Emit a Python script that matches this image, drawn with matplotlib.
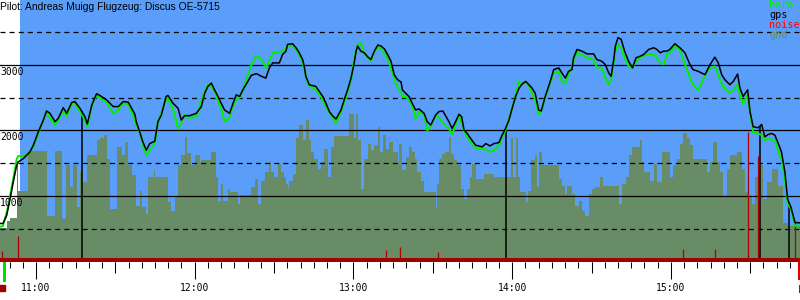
import numpy as np
import matplotlib
matplotlib.use('Agg')
import matplotlib.pyplot as plt

################################################################################
# Data (time in minutes after midnight, altitude in m)
################################################################################
flight_t = [646.4, 647.5, 648.9, 650.2, 651.4, 652.7, 653.3, 655.2, 657.7, 659.0,
            660.9, 662.8, 664.0, 665.3, 667.2, 668.4, 670.3, 671.6, 673.5, 674.7,
            676.6, 678.5, 679.4, 681.1, 682.9, 684.2, 686.7, 689.2, 691.1, 693.0,
            694.9, 697.4, 697.9, 699.2, 700.4, 701.7, 703.0, 704.9, 706.1, 707.4,
            709.2, 709.9, 711.8, 713.7, 714.9, 716.2, 718.1, 720.6, 722.5, 723.8,
            725.0, 726.3, 727.5, 728.8, 730.0, 731.3, 733.2, 734.5, 735.7, 737.0,
            738.2, 740.1, 741.4, 743.3, 745.2, 746.9, 748.2, 749.5, 752.0, 753.2,
            754.5, 755.1, 757.0, 758.3, 759.5, 760.8, 761.4, 762.0, 763.3, 765.8,
            767.1, 768.4, 769.6, 770.9, 772.1, 773.4, 775.3, 776.5, 777.8, 779.1,
            780.3, 781.0, 781.6, 782.8, 784.1, 785.4, 786.6, 787.9, 789.2, 790.4,
            791.7, 792.9, 794.2, 795.4, 796.7, 798.0, 798.5, 799.7, 801.0, 802.2,
            803.5, 804.8, 806.7, 807.9, 809.2, 811.1, 812.3, 813.8, 816.1, 817.3,
            818.6, 819.9, 820.9, 821.8, 823.0, 824.3, 826.2, 828.7, 830.0, 831.6,
            833.1, 835.0, 836.2, 837.5, 838.8, 840.0, 841.3, 842.6, 843.8, 845.1,
            846.3, 847.5, 848.7, 850.0, 851.0, 852.5, 854.4, 855.7, 857.6, 858.8,
            860.1, 861.3, 862.6, 863.2, 864.5, 866.4, 868.3, 870.8, 872.0, 873.9,
            875.2, 876.5, 877.4, 878.4, 879.0, 880.0, 881.2, 882.5, 884.0, 885.5,
            886.8, 888.4, 889.7, 891.6, 893.5, 894.7, 896.0, 897.2, 898.5, 899.6,
            901.5, 903.4, 905.3, 907.2, 908.4, 910.3, 911.6, 912.9, 914.8, 916.6,
            917.9, 919.2, 920.4, 922.3, 923.6, 925.2, 926.1, 927.3, 929.0, 929.9,
            931.1, 933.0, 934.3, 935.5, 936.8, 938.1, 939.3, 940.6, 941.8, 943.1,
            944.1, 945.4, 946.9, 948.8]

gps_alt = [580, 580, 700, 954, 1210, 1467, 1520, 1570, 1672, 1775,
           1980, 2160, 2298, 2262, 2134, 2185, 2349, 2262, 2426, 2442,
           2339, 2211, 2100, 2390, 2560, 2534, 2467, 2365, 2365, 2442,
           2431, 2247, 2134, 1980, 1826, 1698, 1800, 1836, 2134, 2237,
           2519, 2534, 2416, 2339, 2160, 2226, 2226, 2262, 2365, 2570,
           2673, 2724, 2621, 2519, 2416, 2313, 2262, 2416, 2544, 2519,
           2621, 2750, 2842, 2868, 2827, 2800, 2955, 3032, 3032, 3160,
           3211, 3314, 3324, 3263, 3186, 3083, 2980, 2827, 2698, 2673,
           2596, 2519, 2416, 2288, 2226, 2175, 2313, 2467, 2621, 2800,
           3032, 3211, 3288, 3211, 3186, 3124, 3083, 3211, 3304, 3290,
           3245, 3160, 3057, 2852, 2775, 2740, 2621, 2570, 2519, 2416,
           2313, 2329, 2262, 2134, 2083, 2237, 2288, 2298, 2134, 2031,
           2134, 2247, 2210, 2006, 1955, 1878, 1775, 1750, 1800, 1765,
           1800, 1816, 1929, 2031, 2160, 2339, 2519, 2647, 2709, 2750,
           2700, 2647, 2570, 2313, 2298, 2519, 2750, 2929, 2955, 2878,
           2800, 2903, 2929, 3109, 3237, 3211, 3170, 3170, 3083, 3057,
           3006, 2878, 2827, 3083, 3288, 3417, 3391, 3211, 3057, 2955,
           3109, 3134, 3160, 3237, 3263, 3237, 3186, 3211, 3211, 3237,
           3324, 3263, 3186, 3006, 2929, 2903, 2878, 2852, 3006, 3119,
           3032, 2852, 2775, 2698, 2750, 2862, 2647, 2519, 2621, 2288,
           2057, 2042, 2093, 1903, 1939, 1955, 1929, 1800, 1672, 1365,
           954, 826, 595, 590]

baro_alt = [530, 540, 740, 1000, 1260, 1560, 1610, 1610, 1672, 1750,
            1960, 2160, 2290, 2190, 2080, 2150, 2320, 2220, 2400, 2420,
            2290, 2160, 2060, 2370, 2540, 2500, 2430, 2260, 2310, 2420,
            2400, 2160, 2080, 1980, 1780, 1620, 1700, 1800, 2134, 2260,
            2480, 2490, 2330, 2030, 2110, 2240, 2190, 2210, 2450, 2600,
            2700, 2680, 2600, 2460, 2330, 2134, 2200, 2380, 2470, 2500,
            2621, 2852, 3000, 3140, 3090, 2955, 3060, 3180, 3200, 3211,
            3260, 3290, 3300, 3240, 3160, 3030, 2955, 2830, 2680, 2621,
            2550, 2467, 2360, 2280, 2185, 2108, 2288, 2420, 2580, 2775,
            3109, 3210, 3314, 3340, 3180, 3110, 3057, 3200, 3280, 3237,
            3190, 3100, 2950, 2800, 2650, 2596, 2519, 2519, 2450, 2390,
            2185, 2288, 2237, 2000, 2057, 2240, 2200, 2110, 2031, 1939,
            2083, 2247, 2110, 2000, 1900, 1826, 1724, 1715, 1714, 1672,
            1700, 1770, 1900, 2000, 2200, 2339, 2550, 2750, 2700, 2750,
            2680, 2570, 2467, 2247, 2300, 2519, 2724, 2878, 2903, 2750,
            2720, 2850, 2980, 3057, 3186, 3160, 3109, 3083, 2965, 2955,
            2810, 2700, 2780, 3050, 3211, 3324, 3263, 3109, 2980, 2955,
            3057, 3109, 3140, 3170, 3160, 3109, 3030, 3010, 3160, 3186,
            3288, 3237, 3010, 2800, 2700, 2620, 2724, 2850, 2950, 2980,
            2850, 2700, 2647, 2570, 2620, 2700, 2540, 2400, 2545, 2288,
            1970, 1955, 1929, 1852, 1870, 1860, 1852, 1672, 1570, 1260,
            880, 800, 544, 544]

# terrain under the track: segment start times and heights
gnd_t = [646.4, 649.0, 650.2, 652.8, 653.2, 657.0, 664.2, 667.2, 669.8, 671.3,
         672.9, 674.0, 675.5, 676.6, 677.8, 679.3, 683.1, 684.2, 685.7, 686.8,
         688.0, 690.6, 692.5, 693.6, 694.8, 696.3, 697.8, 699.3, 700.1, 701.6,
         702.3, 704.6, 705.0, 709.9, 711.0, 712.5, 713.7, 714.8, 716.3, 717.1,
         718.6, 720.1, 722.0, 722.4, 726.1, 728.0, 728.8, 729.9, 730.7, 732.6,
         733.3, 736.3, 737.1, 741.3, 742.8, 743.9, 745.0, 746.6, 748.1, 748.8,
         750.0, 751.5, 752.6, 753.7, 754.5, 755.2, 755.6, 757.1, 758.3, 759.4,
         760.9, 762.0, 763.2, 763.9, 765.1, 766.6, 767.7, 768.9, 770.4, 771.5,
         772.6, 778.3, 780.2, 780.9, 781.7, 782.8, 784.0, 785.5, 786.6, 787.8,
         789.3, 790.0, 791.2, 792.3, 793.4, 794.9, 796.8, 797.2, 798.3, 799.8,
         801.0, 802.1, 803.2, 804.0, 805.5, 806.6, 811.2, 811.6, 812.3, 813.5,
         814.6, 816.1, 816.9, 818.0, 819.1, 820.6, 821.8, 822.9, 824.0, 824.8,
         826.3, 829.3, 833.1, 839.5, 840.3, 841.4, 842.2, 842.9, 845.2, 846.0,
         847.1, 848.6, 849.4, 850.1, 851.3, 857.7, 858.8, 859.9, 860.7, 862.6,
         863.7, 865.2, 866.4, 867.5, 869.0, 870.1, 871.3, 873.2, 874.3, 880.4,
         881.5, 883.0, 884.1, 885.3, 888.3, 889.0, 889.8, 892.1, 893.6, 894.7,
         896.6, 899.6, 900.8, 902.3, 903.4, 904.5, 906.1, 907.2, 908.3, 909.8,
         913.6, 914.8, 915.9, 917.4, 918.5, 919.7, 921.2, 922.3, 925.0, 926.9,
         928.0, 929.1, 930.6, 931.8, 932.9, 934.8, 936.3, 938.2, 940.4, 942.3,
         944.2]
gnd_alt = [513, 620, 657, 1530, 1082, 1683, 698, 1693, 646, 1467,
           1134, 1467, 826, 1365, 1211, 1621, 1852, 1878, 1929, 1570,
           800, 1750, 1621, 1826, 1467, 1313, 852, 1082, 826, 723,
           1288, 1390, 1288, 903, 775, 1005, 1467, 1621, 1903, 1662,
           1467, 1631, 1520, 1554, 1672, 1288, 928, 1185, 928, 1108,
           1057, 877, 1016, 1134, 1262, 877, 1236, 1365, 1518, 1365,
           1288, 1493, 1365, 1288, 1185, 1118, 1236, 1339, 1878, 2083,
           1852, 2160, 1852, 1672, 1570, 1416, 1518, 1724, 1288, 1750,
           1913, 2247, 1878, 2247, 1852, 1108, 1570, 1800, 1698, 1780,
           2057, 1672, 1929, 1724, 1826, 1672, 1518, 1800, 1390, 1595,
           1750, 1672, 1570, 1365, 1236, 1057, 826, 1185, 1570, 1647,
           1672, 1903, 1647, 1544, 1467, 1108, 954, 1108, 1288, 1493,
           1262, 1339, 1288, 1878, 1288, 1878, 1288, 1057, 903, 1082,
           1544, 1621, 1134, 1672, 1467, 1252, 1160, 1031, 1160, 1031,
           852, 928, 775, 698, 1031, 1108, 1134, 1288, 1160, 877,
           1185, 1288, 1621, 1750, 1852, 1518, 1365, 1236, 1493, 1210,
           1672, 1288, 1467, 1570, 1800, 1955, 1878, 1775, 1570, 1560,
           1365, 1518, 1826, 1518, 1365, 980, 1416, 1621, 1672, 1416,
           1057, 980, 877, 1288, 1467, 954, 1210, 1416, 1160, 595,
           544]
gnd_end = 948.8

noise_t = [647.3, 653.3, 792.3, 797.6, 811.9, 904.5, 916.7, 929.0, 933.0, 946.9]
noise_val = [160, 390, 175, 220, 145, 190, 190, 1980, 1610, 600]

mark_t = [677.3, 837.8, 933.8, 944.6]     # marked fixes
takeoff_t = 648.0
landing_t = 948.4
sky_start = 654.0

hour_ticks = [660, 720, 780, 840, 900]
hour_labels = ['11:00', '12:00', '13:00', '14:00', '15:00']
alt_labels = [1000, 2000, 3000]

SKY = '#5a9efa'
GND = '#678c66'
BAR = '#a00000'

################################################################################
# Plot
################################################################################
fig = plt.figure(figsize=(8, 3), dpi=100)
ax = fig.add_axes([0, 38.5 / 300, 1, 261.5 / 300])
ax.set_xlim(646.4, 948.8)
ax.set_ylim(0, 3992)
for s in ax.spines.values():
    s.set_visible(False)

ax.axvspan(sky_start, 948.8, color=SKY, lw=0, zorder=0)

gt = list(gnd_t) + [gnd_end]
ga = list(gnd_alt) + [gnd_alt[-1]]
ax.fill_between(gt, 0, ga, step='post', color=GND, lw=0, zorder=1)

for lev in range(500, 4000, 500):
    if lev % 1000 == 0:
        ax.axhline(lev, color='black', lw=0.9, zorder=2)
    else:
        ax.axhline(lev, color='black', lw=0.9, ls=(0, (4, 3.3)), zorder=2)

ax.vlines(noise_t, 0, noise_val, color='#b00000', lw=0.9, zorder=3)
mark_top = np.interp(mark_t, flight_t, gps_alt)
ax.vlines(mark_t, 0, mark_top, color='black', lw=1.1, zorder=3)

ax.plot(flight_t, baro_alt, color='#00ee00', lw=1.4, zorder=4)
ax.plot(flight_t, gps_alt, color='black', lw=1.1, zorder=5)

ax.axhspan(0, 60, color=BAR, lw=0, zorder=6)

for a in alt_labels:
    ax.text(0.0, a - 105, str(a), transform=ax.get_yaxis_transform(),
            ha='left', va='center', family='DejaVu Sans Mono', size=7,
            zorder=7)

# time axis
ax.set_yticks([])
ax.set_xticks(hour_ticks)
ax.set_xticklabels(hour_labels, family='DejaVu Sans Mono', size=7)
ax.set_xticks(np.arange(650, 950, 5), minor=True)
ax.tick_params(axis='x', which='major', length=12.3, width=0.75, pad=3)
ax.tick_params(axis='x', which='minor', length=4.3, width=0.75)
sec = ax.secondary_xaxis('bottom')
sec.set_xticks([690, 750, 810, 870, 930])
sec.tick_params(length=8, width=0.75, labelbottom=False)
sec.spines['bottom'].set_visible(False)

# takeoff / landing marks below the axis
tr = ax.get_xaxis_transform()
ax.plot([takeoff_t, takeoff_t], [0, -0.07], transform=tr, color='#00dd00',
        lw=2.2, clip_on=False)
ax.plot([takeoff_t - 0.7], [-0.103], 's', transform=tr, color=BAR, ms=4.2,
        clip_on=False)
ax.plot([landing_t, landing_t], [0, -0.068], transform=tr, color='#dd0000',
        lw=1.5, clip_on=False)
ax.plot([landing_t, landing_t], [-0.09, -0.117], transform=tr, color='#dd0000',
        lw=0.75, clip_on=False)

fig.text(0.0, 1 - 6.5 / 300, 'Pilot: Andreas Muigg Flugzeug: Discus OE-5715',
         ha='left', va='center', family='Liberation Sans', size=7.4)
for i, (name, col) in enumerate([('baro', '#00ee00'), ('gps', 'black'),
                                 ('noise', '#ff0000'), ('gnd', GND)]):
    fig.text(769 / 800, 1 - (5.5 + 10 * i) / 300, name, ha='left', va='center',
             family='DejaVu Sans Mono', size=7.3, color=col)

fig.savefig('out.png', dpi=100)
